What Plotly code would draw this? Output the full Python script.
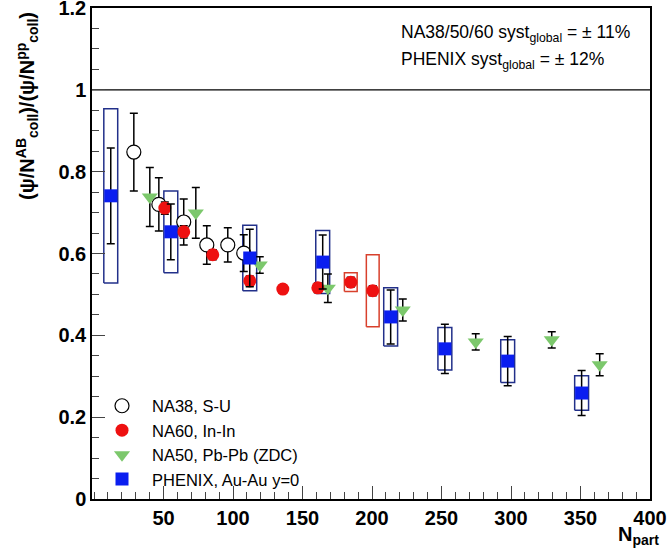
import plotly.graph_objects as go

# ---------------- data ----------------
na38_x = [28.6, 46.6, 64.5, 81.1, 96.2, 107.7]
na38_y = [0.848, 0.720, 0.677, 0.621, 0.621, 0.601]
na38_err = [0.095, 0.065, 0.056, 0.047, 0.042, 0.045]

na60_x = [50.9, 64.5, 85.4, 112.0, 135.8, 161.0, 184.7, 200.5]
na60_y = [0.711, 0.653, 0.597, 0.533, 0.513, 0.516, 0.530, 0.509]
na60_err = [0.015, 0.015, 0.012, 0.012, 0.010, 0.012, 0.012, 0.012]
na60_syst = [0.0, 0.0, 0.0, 0.0, 0.0, 0.0, 0.023, 0.088]

na50_x = [40.1, 73.2, 119.2, 168.2, 222.1, 274.6, 329.3, 363.8]
na50_y = [0.738, 0.699, 0.572, 0.515, 0.462, 0.384, 0.389, 0.328]
na50_err = [0.072, 0.062, 0.020, 0.035, 0.027, 0.020, 0.020, 0.027]

phx_x = [12.0, 55.2, 112.0, 164.5, 213.4, 252.4, 297.6, 350.8]
phx_y = [0.741, 0.653, 0.589, 0.579, 0.445, 0.367, 0.337, 0.259]
phx_stat = [0.117, 0.068, 0.070, 0.066, 0.066, 0.060, 0.060, 0.055]
phx_syst = [0.213, 0.100, 0.080, 0.077, 0.071, 0.052, 0.052, 0.042]

legend_names = ["NA38, S-U", "NA60, In-In", "NA50, Pb-Pb (ZDC)", "PHENIX, Au-Au y=0"]
x_ticks = [50, 100, 150, 200, 250, 300, 350, 400]
y_ticks = [0, 0.2, 0.4, 0.6, 0.8, 1.0, 1.2]
y_ticktext = ["0", "0.2", "0.4", "0.6", "0.8", "1", "1.2"]

FONT = "Liberation Sans, Arial, sans-serif"
BOX_HALF_W = 5.0


def boxes(xs, ys, systs, half):
    bx, by = [], []
    for x, y, s in zip(xs, ys, systs):
        if s <= 0:
            continue
        bx += [x - half, x + half, x + half, x - half, x - half, None]
        by += [y - s, y - s, y + s, y + s, y - s, None]
    return bx, by


fig = go.Figure()

# systematic boxes
bx, by = boxes(phx_x, phx_y, phx_syst, BOX_HALF_W)
fig.add_trace(go.Scatter(x=bx, y=by, mode="lines", line=dict(color="#22308a", width=1.5),
                         showlegend=False, hoverinfo="skip"))
bx, by = boxes(na60_x, na60_y, na60_syst, 4.6)
fig.add_trace(go.Scatter(x=bx, y=by, mode="lines", line=dict(color="#d8402c", width=1.5),
                         showlegend=False, hoverinfo="skip"))

err_style = dict(type="data", color="black", thickness=1.5, width=4)

fig.add_trace(go.Scatter(
    x=na38_x, y=na38_y, mode="markers", name=legend_names[0], legendrank=1,
    marker=dict(symbol="circle", size=14, color="white", line=dict(color="black", width=1.2)),
    error_y=dict(array=na38_err, **err_style)))

fig.add_trace(go.Scatter(
    x=na50_x, y=na50_y, mode="markers", name=legend_names[2], legendrank=3,
    marker=dict(symbol="triangle-down", size=14, color="#7cc86c", line=dict(width=0)),
    error_y=dict(array=na50_err, **err_style)))

fig.add_trace(go.Scatter(
    x=na60_x, y=na60_y, mode="markers", name=legend_names[1], legendrank=2,
    marker=dict(symbol="circle", size=13, color="#ee1111", line=dict(width=0)),
    error_y=dict(array=na60_err, **err_style)))

fig.add_trace(go.Scatter(
    x=phx_x, y=phx_y, mode="markers", name=legend_names[3], legendrank=4,
    marker=dict(symbol="square", size=13, color="#0a1ef0", line=dict(width=0)),
    error_y=dict(array=phx_stat, **err_style)))

# horizontal line at 1
fig.add_trace(go.Scatter(x=[-1.5, 400], y=[1, 1], mode="lines",
                         line=dict(color="black", width=1.3), showlegend=False, hoverinfo="skip"))

fig.update_xaxes(
    range=[-1.5, 400], tickvals=x_ticks, ticks="inside", ticklen=13, tickwidth=1,
    tickcolor="#444", showline=True, linecolor="black", linewidth=1.5, mirror=True,
    showgrid=False, zeroline=False, ticklabeloverflow="allow",
    tickfont=dict(family=FONT, size=20, color="black", weight="bold"),
    minor=dict(dtick=10, ticks="inside", ticklen=7, tickcolor="#444", showgrid=False),
)
fig.update_yaxes(
    range=[0, 1.2], tickvals=y_ticks, ticktext=y_ticktext, ticks="inside", ticklen=13,
    tickwidth=1, tickcolor="#444", showline=True, linecolor="black", linewidth=1.5,
    mirror=True, showgrid=False, zeroline=False, ticklabeloverflow="allow",
    tickfont=dict(family=FONT, size=20, color="black", weight="bold"),
    minor=dict(dtick=0.05, ticks="inside", ticklen=7, tickcolor="#444", showgrid=False),
)

fig.add_annotation(
    text="(ψ/N<sup>AB</sup><sub>coll</sub>)/(ψ/N<sup>pp</sup><sub>coll</sub>)",
    xref="paper", yref="paper", x=-0.117, y=0.80, textangle=-90, showarrow=False,
    xanchor="center", yanchor="middle",
    font=dict(family=FONT, size=20, color="black", weight="bold"))

fig.add_annotation(
    text="N<sub>part</sub>", xref="paper", yref="paper", x=0.98, y=-0.075,
    showarrow=False, xanchor="center", yanchor="middle",
    font=dict(family=FONT, size=20, color="black", weight="bold"))

fig.add_annotation(
    text="NA38/50/60 syst<sub>global</sub> = ± 11%", xref="paper", yref="paper",
    x=0.55, y=0.948, showarrow=False, xanchor="left", yanchor="middle",
    font=dict(family=FONT, size=17.5, color="black"))
fig.add_annotation(
    text="PHENIX syst<sub>global</sub> = ± 12%", xref="paper", yref="paper",
    x=0.55, y=0.893, showarrow=False, xanchor="left", yanchor="middle",
    font=dict(family=FONT, size=17.5, color="black"))

fig.update_layout(
    width=669, height=554,
    margin=dict(l=92, r=19, t=8, b=55, autoexpand=False),
    paper_bgcolor="white", plot_bgcolor="white",
    showlegend=True,
    legend=dict(x=0.0, y=0.225, xanchor="left", yanchor="top", bgcolor="rgba(0,0,0,0)",
                font=dict(family=FONT, size=16.5, color="black"), itemwidth=50,
                tracegroupgap=0),
)

fig.write_html("out.html")
